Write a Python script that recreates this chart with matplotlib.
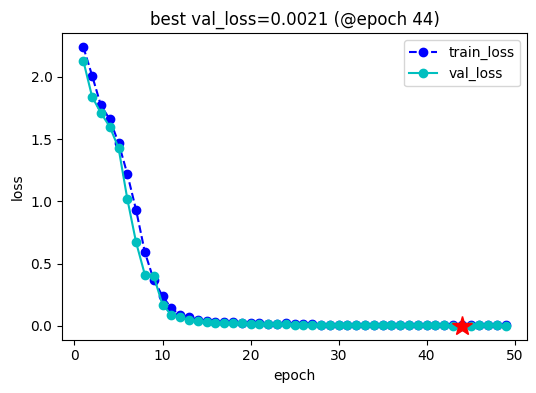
import matplotlib
matplotlib.use("Agg")
import matplotlib.pyplot as plt

epochs = list(range(1, 50))
train_loss = [2.24, 2.01, 1.77, 1.66, 1.47, 1.22, 0.93, 0.59, 0.37, 0.24,
              0.14, 0.09, 0.07, 0.05, 0.04, 0.035, 0.03, 0.028, 0.025, 0.022,
              0.02, 0.019, 0.018, 0.02, 0.017, 0.014, 0.012, 0.011, 0.01, 0.01,
              0.009, 0.009, 0.011, 0.01, 0.009, 0.008, 0.007, 0.007, 0.006, 0.006,
              0.008, 0.008, 0.007, 0.006, 0.008, 0.008, 0.006, 0.005, 0.005]
val_loss = [2.13, 1.84, 1.71, 1.60, 1.43, 1.02, 0.67, 0.41, 0.40, 0.17,
            0.09, 0.07, 0.045, 0.04, 0.03, 0.027, 0.025, 0.022, 0.02, 0.018,
            0.016, 0.015, 0.014, 0.012, 0.011, 0.011, 0.01, 0.009, 0.009, 0.008,
            0.008, 0.007, 0.007, 0.006, 0.006, 0.006, 0.005, 0.005, 0.005, 0.004,
            0.004, 0.004, 0.003, 0.0021, 0.003, 0.004, 0.009, 0.004, 0.003]
best_epoch = 44
best_val = 0.0021

fig, ax = plt.subplots(figsize=(5.36, 3.93), dpi=100)
ax.plot(epochs, train_loss, 'bo--', label='train_loss')
ax.plot(epochs, val_loss, 'co-', label='val_loss')
ax.plot(best_epoch, best_val, 'r*', markersize=15)
ax.set_xlabel('epoch')
ax.set_ylabel('loss')
ax.set_title(f'best val_loss={best_val:.4f} (@epoch {best_epoch})')
ax.legend()
plt.subplots_adjust(left=0.116, right=0.983, top=0.916, bottom=0.136)
fig.savefig('out.png')
